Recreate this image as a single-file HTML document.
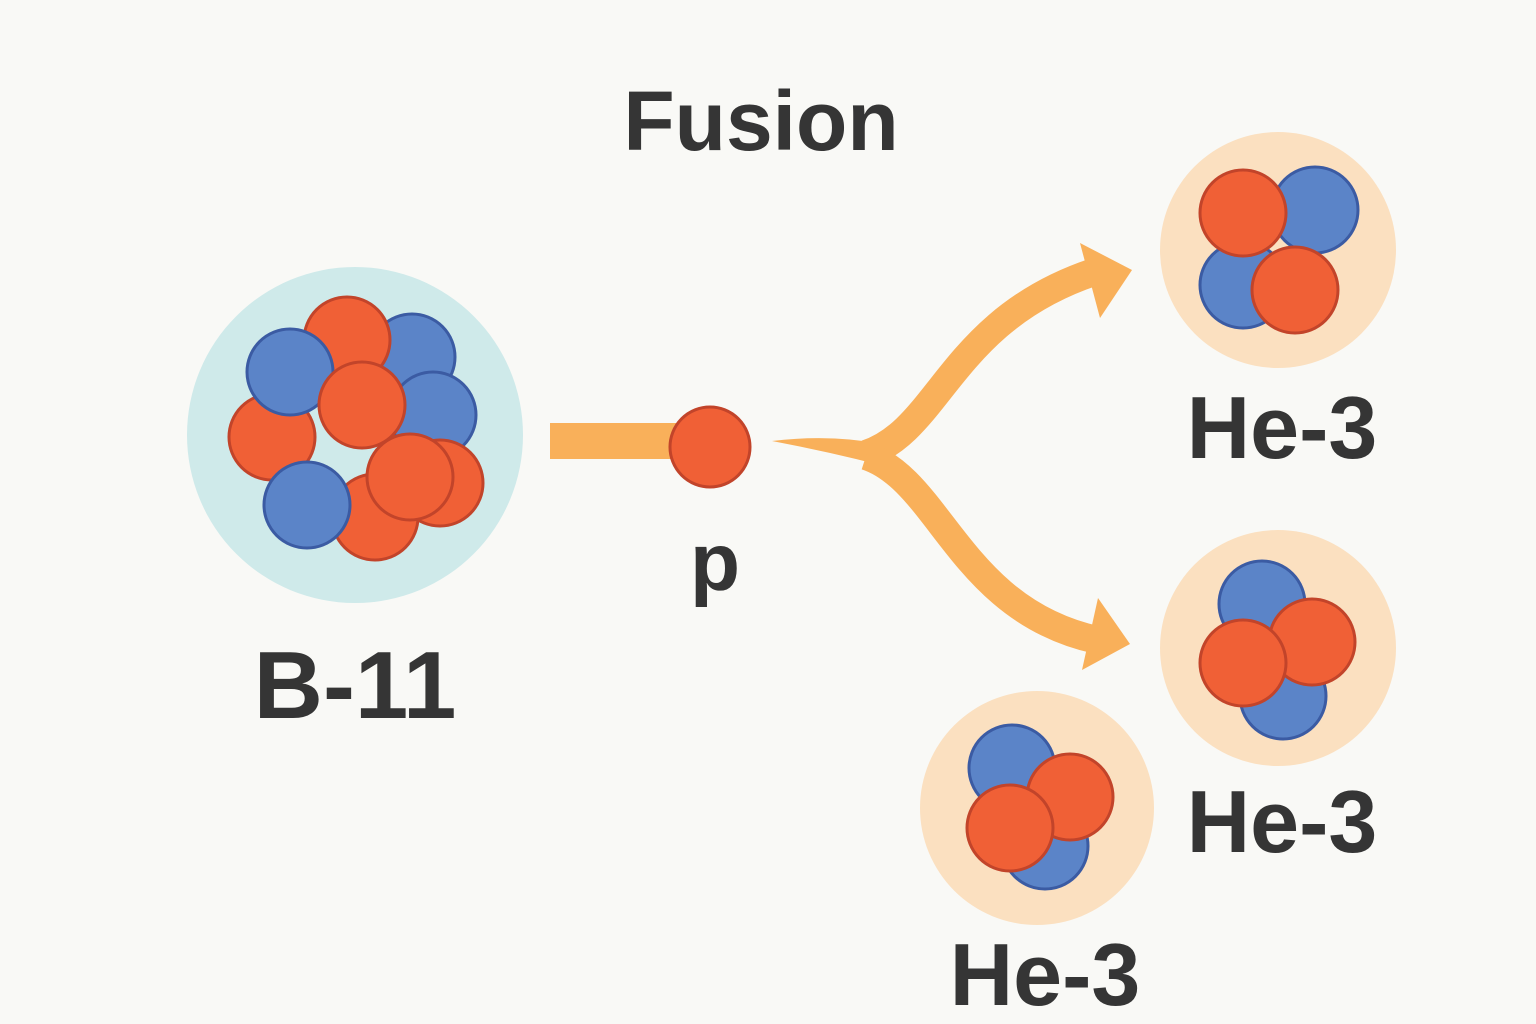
<!DOCTYPE html>
<html><head><style>
html,body{margin:0;padding:0;background:#f9f9f6;}
svg{display:block}
text{font-family:"Liberation Sans",sans-serif;font-weight:bold;fill:#353535;text-anchor:middle}
</style></head><body>
<svg width="1536" height="1024" viewBox="0 0 1536 1024">
<defs>
<g id="o"><circle r="43" fill="#f06036" stroke="#c2442a" stroke-width="3"/></g>
<g id="b"><circle r="43" fill="#5b84c8" stroke="#3b5ba3" stroke-width="3"/></g>
</defs>
<rect width="1536" height="1024" fill="#f9f9f6"/>
<text x="761" y="150" font-size="84">Fusion</text>

<circle cx="355" cy="435" r="168" fill="#cfeaea"/>
<use href="#b" x="412" y="357"/>
<use href="#b" x="433" y="415"/>
<use href="#o" x="347" y="340"/>
<use href="#o" x="272" y="437"/>
<use href="#b" x="290" y="372"/>
<use href="#o" x="362" y="405"/>
<use href="#o" x="440" y="483"/>
<use href="#o" x="375" y="517"/>
<use href="#b" x="307" y="505"/>
<use href="#o" x="410" y="477"/>
<text x="355" y="718" font-size="96">B-11</text>

<rect x="550" y="423" width="145" height="36" fill="#f9b05a"/>
<circle cx="710" cy="447" r="40" fill="#f06036" stroke="#c2442a" stroke-width="3"/>
<text x="715" y="590" font-size="82">p</text>

<g fill="#f9b05a">
<path d="M772 441 Q830 434 882 444 L884 466 Q830 452 772 441 Z"/>
<path d="M866 454 C940 430 950 320 1094 272" stroke="#f9b05a" stroke-width="28" fill="none"/>
<path d="M866 456 C940 480 960 610 1097 640" stroke="#f9b05a" stroke-width="28" fill="none"/>
<polygon points="1080,243 1132,270 1100,318"/>
<polygon points="1098,598 1130,644 1082,670"/>
</g>

<circle cx="1278" cy="250" r="118" fill="#fbe0c0"/>
<use href="#b" x="1315" y="210"/>
<use href="#b" x="1243" y="285"/>
<use href="#o" x="1243" y="213"/>
<use href="#o" x="1295" y="290"/>
<text x="1282" y="458" font-size="88">He-3</text>

<circle cx="1278" cy="648" r="118" fill="#fbe0c0"/>
<use href="#b" x="1262" y="604"/>
<use href="#b" x="1283" y="696"/>
<use href="#o" x="1312" y="642"/>
<use href="#o" x="1243" y="663"/>
<text x="1282" y="852" font-size="88">He-3</text>

<circle cx="1037" cy="808" r="117" fill="#fbe0c0"/>
<use href="#b" x="1012" y="768"/>
<use href="#b" x="1045" y="846"/>
<use href="#o" x="1070" y="797"/>
<use href="#o" x="1010" y="828"/>
<text x="1045" y="1005" font-size="88">He-3</text>
</svg>
</body></html>
